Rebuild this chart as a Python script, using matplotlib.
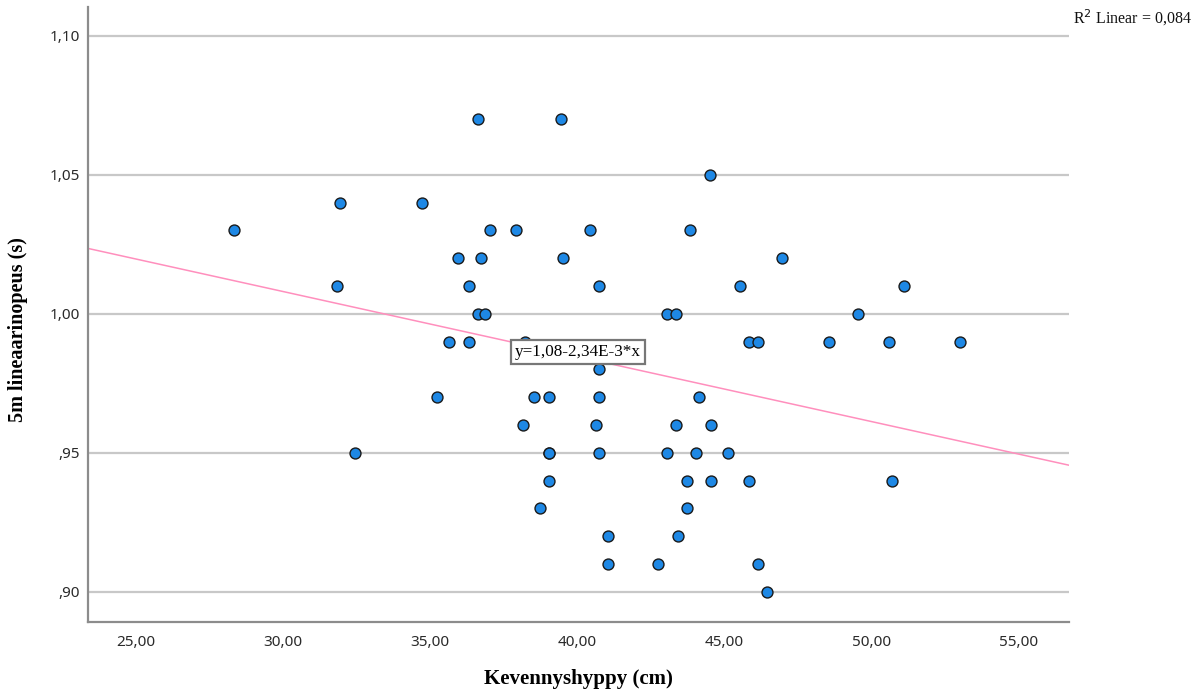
import matplotlib
matplotlib.use("Agg")
import matplotlib.pyplot as plt
from matplotlib.ticker import FixedLocator

# Data
jump_cm = [28.33, 31.83, 31.93, 32.44, 34.71, 35.22, 35.63, 35.93, 36.31, 36.31,
           36.61, 36.61, 36.85, 36.72, 37.02, 37.90, 38.14, 38.21, 38.51, 38.72,
           39.02, 39.02, 39.02, 39.02, 39.43, 39.50, 40.42, 40.62, 40.72, 40.72,
           40.72, 40.72, 41.03, 41.03, 42.72, 43.03, 43.03, 43.34, 43.34, 43.40,
           43.71, 43.71, 43.81, 44.01, 44.12, 44.50, 44.52, 44.52, 45.13, 45.51,
           45.82, 46.12, 45.82, 46.12, 46.43, 46.94, 48.53, 49.52, 50.60, 50.70,
           51.11, 53.01]
speed_s = [1.03, 1.01, 1.04, 0.95, 1.04, 0.97, 0.99, 1.02, 1.01, 0.99,
           1.07, 1.00, 1.00, 1.02, 1.03, 1.03, 0.96, 0.99, 0.97, 0.93,
           0.97, 0.95, 0.94, 0.95, 1.07, 1.02, 1.03, 0.96, 0.98, 0.97,
           0.95, 1.01, 0.92, 0.91, 0.91, 1.00, 0.95, 1.00, 0.96, 0.92,
           0.94, 0.93, 1.03, 0.95, 0.97, 1.05, 0.96, 0.94, 0.95, 1.01,
           0.99, 0.99, 0.94, 0.91, 0.90, 1.02, 0.99, 1.00, 0.99, 0.94,
           1.01, 0.99]
fit_intercept = 1.0782
fit_slope = -0.00234
x_ticks = [25, 30, 35, 40, 45, 50, 55]
x_tick_labels = ["25,00", "30,00", "35,00", "40,00", "45,00", "50,00", "55,00"]
y_ticks = [0.90, 0.95, 1.00, 1.05, 1.10]
y_tick_labels = [",90", ",95", "1,00", "1,05", "1,10"]
equation_text = "y=1,08-2,34E-3*x"
r2_text = "R$^2$ Linear = 0,084"
x_label = "Kevennyshyppy (cm)"
y_label = "5m lineaarinopeus (s)"

fig = plt.figure(figsize=(12.03, 6.95), dpi=100)
ax = fig.add_axes([0.0732, 0.105, 0.8154, 0.885])
xlim = (23.37, 56.70)
ax.set_xlim(*xlim)
ax.set_ylim(0.8891, 1.1104)

for v in y_ticks:
    ax.axhline(v, color="#c8c8c8", lw=1.6, zorder=1)

ax.plot(list(xlim), [fit_intercept + fit_slope * xlim[0], fit_intercept + fit_slope * xlim[1]],
        color="#ff8fbd", lw=1.1, zorder=2)

ax.scatter(jump_cm, speed_s, s=62, color="#1e88e5", edgecolors="#1a1a1a",
           linewidths=1.0, zorder=3)

ax.xaxis.set_major_locator(FixedLocator(x_ticks))
ax.set_xticklabels(x_tick_labels)
ax.yaxis.set_major_locator(FixedLocator(y_ticks))
ax.set_yticklabels(y_tick_labels)
ax.tick_params(length=0, labelsize=11, colors="#2a2a2a")
ax.tick_params(axis="y", pad=6)
ax.tick_params(axis="x", pad=9)
for lab in ax.get_xticklabels() + ax.get_yticklabels():
    lab.set_family("Noto Sans")

for side in ["top", "right"]:
    ax.spines[side].set_visible(False)
for side in ["left", "bottom"]:
    ax.spines[side].set_color("#8c8c8c")
    ax.spines[side].set_linewidth(1.6)

ax.set_xlabel(x_label, family="Liberation Serif", fontweight="bold", fontsize=15, labelpad=14)
fig.text(18 / 1203, 1 - 330 / 695, y_label, rotation=90, ha="center", va="center",
         family="Liberation Serif", fontweight="bold", fontsize=14.5)

ax.annotate(equation_text, xy=(40.02, 0.9862), ha="center", va="center",
            family="Liberation Serif", fontsize=12.3, zorder=5,
            bbox=dict(boxstyle="square,pad=0.25", fc="white", ec="#777777", lw=1.6))

fig.text(1192 / 1203, 1 - 18 / 695, r2_text, ha="right", va="center",
         family="Liberation Serif", fontsize=11.5, color="#111111")

fig.savefig("out.png", dpi=100)
